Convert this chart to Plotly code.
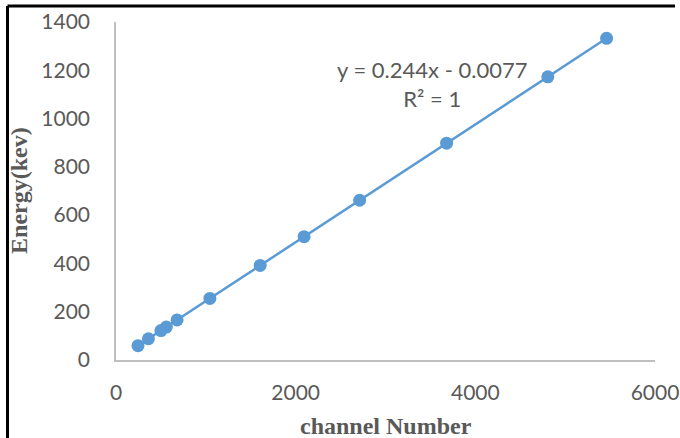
import plotly.graph_objects as go

channel = [245, 361, 500, 560, 680, 1045, 1605, 2094, 2712, 3680, 4807, 5461]
energy = [59.5, 88, 122, 136.5, 165.9, 255, 391.7, 511, 661.7, 898, 1173, 1332.5]
slope = 0.244
intercept = -0.0077
eq_text = "y = 0.244x - 0.0077<br>R² = 1"
x_ticks = [0, 2000, 4000, 6000]
y_ticks = [0, 200, 400, 600, 800, 1000, 1200, 1400]

blue = "#5B9BD5"
grey = "#595959"

fit_x = [min(channel), max(channel)]
fit_y = [slope * v + intercept for v in fit_x]

fig = go.Figure()
fig.add_trace(go.Scatter(x=fit_x, y=fit_y, mode="lines",
                         line=dict(color=blue, width=2.5), showlegend=False))
fig.add_trace(go.Scatter(x=channel, y=energy, mode="markers",
                         marker=dict(color=blue, size=13), showlegend=False))

fig.add_annotation(x=3518, y=1143, xref="x", yref="y", text=eq_text,
                   showarrow=False, align="center",
                   font=dict(family="Lato", size=22, color=grey))

# axis titles
fig.add_annotation(x=0.501, y=-0.194, xref="paper", yref="paper",
                   text="<b>channel Number</b>", showarrow=False,
                   xanchor="center", yanchor="middle",
                   font=dict(family="Liberation Serif", size=24, color=grey))
fig.add_annotation(x=-0.18, y=0.503, xref="paper", yref="paper",
                   text="<b>Energy(kev)</b>", showarrow=False, textangle=-90,
                   xanchor="center", yanchor="middle",
                   font=dict(family="Liberation Serif", size=24, color=grey))

# outer frame (top and left edges)
fig.add_shape(type="line", xref="paper", yref="paper",
              x0=-0.2013, x1=1.0371, y0=1.0473, y1=1.0473,
              line=dict(color="black", width=3))
fig.add_shape(type="line", xref="paper", yref="paper",
              x0=-0.2013, x1=-0.2013, y0=-0.3, y1=1.0473,
              line=dict(color="black", width=3))

fig.update_layout(
    width=680, height=438,
    margin=dict(l=116, r=25, t=22, b=78, autoexpand=False),
    plot_bgcolor="white", paper_bgcolor="white",
    xaxis=dict(range=[0, 6000], tickvals=x_ticks, showgrid=False, zeroline=False,
               showline=True, linecolor="#BFBFBF", linewidth=1.5,
               ticks="", ticklabelstandoff=13, automargin=False,
               tickfont=dict(family="Lato", size=21, color=grey)),
    yaxis=dict(range=[0, 1400], tickvals=y_ticks, showgrid=False, zeroline=False,
               showline=True, linecolor="#BFBFBF", linewidth=1.5,
               ticks="", ticklabelstandoff=20, automargin=False,
               tickfont=dict(family="Lato", size=21, color=grey)),
)

fig.write_html("out.html", config={"displayModeBar": False},
               post_script="document.body.style.margin='0';document.body.style.overflow='hidden';")
